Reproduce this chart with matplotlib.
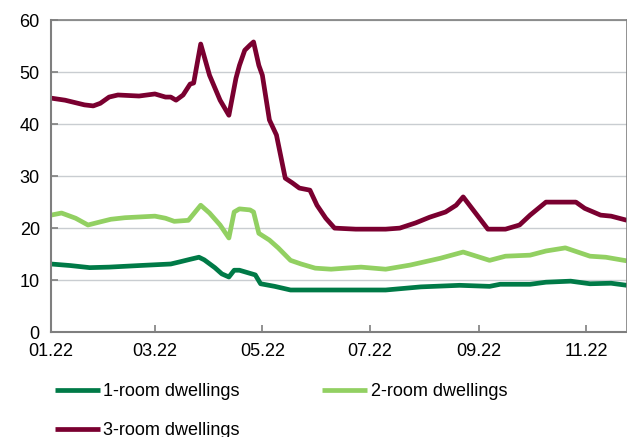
import matplotlib.pyplot as plt
import matplotlib.dates as mdates
import pandas as pd

plt.rcParams['font.family'] = ['Liberation Sans', 'DejaVu Sans']
plt.rcParams['font.size'] = 13

start = pd.Timestamp('2022-01-01')

# days since 1 Jan 2022 and values for each series
days_1 = [0, 11, 22, 33, 50, 68, 73, 79, 84, 87, 93, 97, 101, 104, 107, 113, 116, 119,
          127, 136, 159, 190, 210, 232, 249, 255, 272, 281, 295, 306, 318, 327]
room_1 = [13.1, 12.8, 12.4, 12.5, 12.8, 13.1, 13.5, 14.0, 14.4, 13.9, 12.4, 11.2, 10.6,
          11.9, 11.9, 11.3, 11.0, 9.3, 8.8, 8.1, 8.1, 8.1, 8.7, 9.0, 8.8, 9.2, 9.2, 9.6,
          9.8, 9.3, 9.4, 9.0]

days_2 = [0, 6, 14, 21, 28, 34, 42, 59, 65, 70, 78, 85, 90, 96, 101, 104, 107, 113, 115,
          118, 124, 129, 136, 142, 150, 159, 167, 176, 190, 204, 221, 234, 249, 258, 272,
          281, 292, 306, 315, 327]
room_2 = [22.5, 22.9, 21.9, 20.6, 21.2, 21.7, 22.0, 22.3, 21.9, 21.3, 21.5, 24.4, 22.9,
          20.6, 18.1, 23.1, 23.7, 23.5, 23.1, 19.0, 17.7, 16.2, 13.8, 13.1, 12.3, 12.1,
          12.3, 12.5, 12.1, 12.9, 14.2, 15.4, 13.8, 14.6, 14.8, 15.6, 16.2, 14.6, 14.4, 13.7]

days_3 = [0, 8, 19, 24, 28, 33, 38, 50, 59, 65, 68, 71, 75, 79, 81, 85, 90, 96, 101,
          105, 107, 110, 113, 115, 118, 120, 124, 128, 133, 137, 141, 147, 151, 156, 161,
          173, 190, 198, 207, 215, 224, 230, 234, 241, 248, 258, 266, 272, 281, 298, 303,
          312, 318, 327]
room_3 = [45.0, 44.6, 43.7, 43.5, 44.0, 45.2, 45.6, 45.4, 45.8, 45.2, 45.2, 44.6, 45.6,
          47.7, 47.9, 55.4, 49.4, 44.6, 41.7, 48.8, 51.3, 54.2, 55.2, 55.8, 51.3, 49.4,
          40.8, 37.9, 29.6, 28.7, 27.7, 27.3, 24.4, 21.9, 20.0, 19.8, 19.8, 20.0, 21.0,
          22.1, 23.1, 24.4, 26.0, 22.9, 19.8, 19.8, 20.6, 22.5, 25.0, 25.0, 23.8, 22.5,
          22.3, 21.5]

labels = ['1-room dwellings', '2-room dwellings', '3-room dwellings']
colors = ['#007A47', '#92D062', '#7A0030']


def to_dates(days):
    return start + pd.to_timedelta(days, unit='D')


fig = plt.figure(figsize=(6.27, 4.37), dpi=100)
ax = fig.add_axes([0.0813, 0.240, 0.9187, 0.714])

lines = []
for d, v, lab, c in zip([days_1, days_2, days_3], [room_1, room_2, room_3], labels, colors):
    ln, = ax.plot(to_dates(d), v, color=c, lw=3.4, label=lab, solid_joinstyle='round',
                  solid_capstyle='butt')
    lines.append(ln)

ax.set_ylim(0, 60)
ax.set_yticks(range(0, 61, 10))
ax.set_xlim(start, start + pd.Timedelta(days=327))
ax.xaxis.set_major_locator(mdates.MonthLocator(bymonth=[1, 3, 5, 7, 9, 11]))
ax.xaxis.set_major_formatter(mdates.DateFormatter('%m.%y'))

ax.grid(True, axis='y', color='#C9CDD1', lw=1)
ax.set_axisbelow(True)
for side in ['left', 'bottom', 'top', 'right']:
    ax.spines[side].set_color('#7F7F7F')
    ax.spines[side].set_linewidth(1.5)
ax.spines['top'].set_linewidth(1.2)
ax.spines['right'].set_linewidth(1.2)
ax.tick_params(direction='in', length=5, width=1.2, color='#7F7F7F',
               labelcolor='black', labelsize=13)
ax.tick_params(axis='x', pad=8)
ax.tick_params(axis='y', pad=8)

# legend filled row by row: 1-room, 2-room / 3-room
order = [0, 2, 1]
fig.legend([lines[i] for i in order], [labels[i] for i in order],
           loc='upper left', bbox_to_anchor=(0.087, 0.123), ncol=2, frameon=False,
           handlelength=2.5, handletextpad=0.2, columnspacing=4.55, labelspacing=1.2,
           borderaxespad=0, borderpad=0, fontsize=13)

fig.savefig('out.png', dpi=100)
